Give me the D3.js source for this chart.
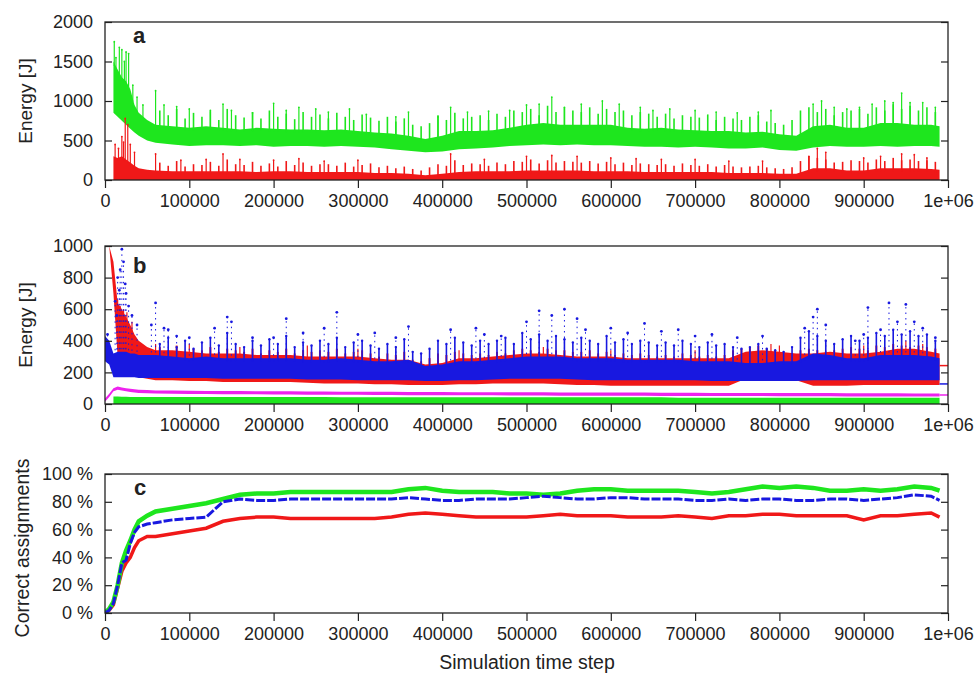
<!DOCTYPE html>
<html><head><meta charset="utf-8">
<script src="https://cdn.jsdelivr.net/npm/d3@7"></script>
<style>
body{margin:0;background:#fff}
text{font-family:"Liberation Sans",Arial,Helvetica,sans-serif;fill:#222}
</style>
</head><body>
<svg id="chart" width="976" height="678"></svg>
<script>
// ---------------- DATA ----------------
const steps = [0,5000,10000,15000,20000,25000,30000,35000,40000,50000,60000,
  80000,100000,120000,140000,160000,180000,200000,220000,240000,260000,
  280000,300000,320000,340000,360000,380000,400000,420000,440000,460000,
  480000,500000,520000,540000,560000,580000,600000,620000,640000,660000,
  680000,700000,720000,740000,760000,780000,800000,820000,840000,860000,
  880000,900000,920000,940000,960000,980000,
  990000];
// regular sampling of local spike maxima (every 10000 steps from 65000)
const spikeSteps = d3.range(65000, 990000, 10000);

const xTicks = [0,100000,200000,300000,400000,500000,600000,700000,800000,900000,1000000];
const xTickLabels = ["0","100000","200000","300000","400000","500000","600000","700000","800000","900000","1e+06"];
const aTicks = [0,500,1000,1500,2000];
const bTicks = [0,200,400,600,800,1000];
const cTicks = [0,20,40,60,80,100];
const cTickLabels = ["0 %","20 %","40 %","60 %","80 %","100 %"];

// panel a
const aGreenLo = [null,null,850,800,750,700,650,600,560,500,470,
  450,430,440,440,430,440,420,430,430,420, 430,420,410,390,370,350,360,390,400,410,
  430,440,450,440,450,440,440,430,420,420, 410,420,410,400,400,410,380,370,410,430,
  420,420,430,420,430,430,
  420];
const aGreenHi = [null,null,1500,1400,1300,1250,1150,950,850,760,700,
  680,660,680,660,640,660,650,640,640,630, 640,620,600,590,560,520,560,620,620,630,
  660,700,720,700,700,700,700,660,650,660, 640,630,620,620,600,610,580,560,680,700,
  660,660,720,720,700,700,
  680];
const aRedHi = [null,null,300,280,300,260,220,180,150,130,120,
  110,110,110,110,110,100,110,110,100,100, 100,100,90,90,80,60,80,100,110,110,
  110,120,120,120,120,110,110,110,100,100, 100,100,100,90,90,90,80,80,150,150,
  120,120,150,150,150,140,
  130];
const aGreenPeaks = [[11000,1750],[13000,1550],[17000,1680],[20000,1650],[23000,1500],[25000,1620],[28000,1600],[33000,1200],[38000,1050],[45000,950],[60000,1130],[70000,950],[85000,930],[100000,900],
  [125000,880],[140000,960],[150000,880],[175000,850],[200000,970],[215000,880],[230000,920],[250000,900],[265000,860],[290000,900],
  [310000,830],[345000,800],[360000,860],[395000,800],[410000,920],[430000,860],[455000,870],[480000,880],[500000,950],[515000,960],
  [530000,1050],[545000,920],[565000,960],[590000,1000],[610000,960],[635000,920],[650000,880],[670000,900],[700000,880],[725000,860],
  [750000,850],[775000,860],[790000,880],[840000,960],[850000,1000],[865000,920],[880000,900],[895000,920],[910000,960],[925000,1000],
  [935000,980],[945000,1100],[955000,980],[970000,980],[985000,920]];
const aGreenSpk = [880,820,900,780,850,800,870,760,900,820,
  790,860,780,880,800,840,770,860,800,830,
  780,850,800,760,830,790,750,800,740,780,
  700,680,720,820,760,850,780,800,820,760,
  840,800,880,860,900,820,940,860,920,880,
  860,920,840,900,860,880,820,860,840,800,
  840,780,820,800,790,830,760,800,780,760,
  800,820,740,720,700,760,880,920,860,900,
  820,860,880,900,840,920,880,960,900,940,
  880,920,860];
const aRedPeaks = [[12000,450],[16000,400],[20000,550],[22000,480],[24000,780],[27000,700],[30000,450],[35000,350],[60000,330],[90000,250],[120000,260],[140000,330],[160000,260],
  [200000,250],[230000,270],[260000,240],[300000,250],[410000,330],[450000,260],[500000,300],[530000,310],[560000,300],[600000,280],
  [630000,270],[660000,260],[700000,260],[740000,240],[780000,240],[835000,300],[845000,400],[855000,350],[900000,280],[920000,300],
  [945000,330],[960000,320],[975000,280]];
const aRedSpk = [220,180,240,170,200,190,230,180,260,200,
  190,230,180,210,170,240,190,220,180,200,
  200,180,220,170,190,210,160,180,150,170,
  140,120,160,200,180,250,190,210,200,180,
  220,200,240,230,260,210,250,220,240,230,
  220,240,210,230,200,220,190,210,200,190,
  200,180,210,190,180,200,170,190,170,160,
  170,180,160,150,140,160,240,300,280,260,
  220,230,250,240,220,260,240,280,250,260,
  240,250,230];

// panel b
const bBlueLo = [270,250,170,170,170,170,170,170,165,165,165,
  165,165,165,160,160,160,160,160,155,155, 155,150,150,150,150,145,145,150,150,155,
  160,160,160,160,155,150,150,150,150,150, 150,150,145,145,145,145,145,145,150,150,
  150,150,150,150,150,150,
  150];
const bBlueHi = [430,400,320,330,330,330,320,320,310,310,310,
  300,290,300,290,290,290,290,290,280,280, 290,280,270,270,280,240,250,270,270,280,
  290,300,300,300,290,290,290,280,280,280, 280,270,270,270,260,260,270,270,320,310,
  290,290,310,310,310,300,
  290];
const bRedLo = [null,1000,700,300,230,200,190,180,170,160,150,
  150,145,145,140,140,140,140,140,135,130, 130,130,125,125,120,120,120,125,125,130,
  130,130,130,125,120,120,115,115,115,115, 115,115,115,115,160,160,150,150,115,115,
  115,120,120,120,120,120,
  120];
const bRedHi = [null,1000,900,640,600,550,500,440,400,360,340,
  340,330,320,320,320,310,310,310,300,300, 300,300,290,280,280,250,260,290,290,300,
  310,320,320,310,300,300,300,290,290,290, 290,290,290,290,330,340,330,320,320,330,
  320,320,330,350,350,330,
  320];
const bMagenta = [25,55,90,100,95,90,86,83,80,78,76,
  75,74,73,72,72,71,70,70,69,69, 68,68,67,67,66,66,66,65,65,65,
  64,64,64,63,63,63,62,62,62,61, 61,61,60,60,60,60,59,59,59,59,
  58,58,58,58,57,57,
  57];
const bGreenHi = [null,null,48,48,46,46,45,45,45,44,44,
  44,44,44,44,44,44,44,44,44,44, 42,42,42,42,42,42,42,42,42,42,
  42,42,42,42,42,42,42,42,42,42, 40,40,40,40,40,40,40,40,40,40,
  40,40,40,40,40,40,
  40];
const bBluePeaks = [[3000,440],[12000,650],[14000,560],[15000,800],[17000,720],[18000,850],[20000,980],[22000,900],[24000,760],[25000,700],[28000,620],[32000,560],[38000,500],[55000,500],[60000,640],
  [70000,480],[75000,470],[85000,430],[100000,420],[130000,480],[145000,550],[150000,520],[175000,420],[200000,420],[215000,540],
  [235000,450],[260000,480],[275000,580],[300000,440],[320000,450],[345000,420],[360000,490],[410000,470],[440000,480],[450000,440],
  [470000,430],[500000,520],[515000,590],[530000,560],[545000,600],[560000,540],[570000,470],[600000,480],[620000,450],[640000,510],
  [660000,460],[680000,470],[700000,430],[720000,440],[750000,420],[780000,430],[830000,480],[840000,550],[845000,600],[855000,500],
  [890000,400],[900000,440],[905000,610],[920000,470],[930000,640],[940000,520],[950000,630],[960000,520],[970000,480],[985000,420]];
const bBlueSpk = [380,420,360,400,350,390,420,370,450,380,
  360,400,370,410,380,430,360,390,370,400,
  380,420,360,390,400,370,350,380,360,410,
  330,320,350,400,380,420,390,370,400,380,
  400,420,380,450,410,440,400,430,410,390,
  420,400,380,430,390,410,380,400,390,370,
  390,370,400,380,360,390,370,380,360,350,
  360,380,350,340,330,360,420,460,430,400,
  380,410,430,400,420,450,430,470,440,460,
  430,440,400];
const bRedPeaks = [[15000,660],[18000,620],[22000,600],[26000,580],[32000,520],[60000,380],[100000,380],[160000,360],[240000,370],[300000,350],
  [420000,340],[520000,360],[600000,340],[700000,340],[790000,380],[800000,370],[900000,370],[950000,400],[970000,380]];
const bRedSpk = [360,340,370,330,350,340,360,330,350,340,
  330,350,320,340,330,350,320,340,330,340,
  330,350,320,330,340,320,300,320,310,330,
  280,270,290,320,310,330,320,310,320,310,
  330,320,340,350,340,330,350,340,340,330,
  330,340,320,330,310,320,310,320,310,300,
  310,300,320,310,300,310,300,310,340,350,
  360,370,350,340,330,320,340,350,340,330,
  340,350,360,350,340,370,360,380,370,360,
  370,360,350];
const bEndValues = [243,127,57]; // red, blue, magenta end levels

// panel c (percent)
const cGreen = [0,3,8,20,36,45,52,60,66,70,73,
  75,77,79,82,85,86,86,87,87,87, 87,87,87,87,89,90,88,87,87,87,
  86,86,85,86,88,89,89,88,88,88, 88,87,86,87,89,91,90,91,90,88,
  88,89,88,89,91,90,
  88];
const cBlue = [0,2,7,20,36,38,50,58,62,64,65,
  67,68,69,80,82,81,81,82,82,82, 82,82,82,82,83,82,81,81,82,82,
  82,83,84,83,82,82,83,83,82,82, 82,81,81,82,81,82,82,81,81,82,
  82,81,82,83,85,84,
  81];
const cRed = [0,2,6,18,30,36,40,47,52,55,55,
  57,59,61,66,68,69,69,68,68,68, 68,68,68,69,71,72,71,70,69,69,
  69,69,70,71,70,70,70,69,69,69, 70,69,68,70,70,71,71,70,70,70,
  70,67,70,70,71,72,
  69];

// ---------------- STYLE / LAYOUT ----------------
const GREEN = "#1ee61e", RED = "#f01818", BLUE = "#1818e0", MAGENTA = "#ee22ee";
const endColors = [RED, BLUE, MAGENTA];
const L = 105, R = 948;
const svg = d3.select("#chart");
const x = d3.scaleLinear([0, 1000000], [L, R]);
const yA = d3.scaleLinear([0, 2000], [180, 22]);
const yB = d3.scaleLinear([0, 1000], [404, 246]);
const yC = d3.scaleLinear([0, 100], [613, 474]);

const defs = svg.append("defs");
function clip(id, y) {
  defs.append("clipPath").attr("id", id).append("rect")
    .attr("x", L).attr("y", y.range()[1]).attr("width", R - L).attr("height", y.range()[0] - y.range()[1]);
}
clip("ca", yA); clip("cb", yB); clip("cc", yC);

function rows(lo, hi) {
  return steps.map((s, i) => ({s, lo: lo ? lo[i] : 0, hi: hi[i]}));
}
function band(g, y, lo, hi, color) {
  const area = d3.area().defined(d => d.hi != null && d.lo != null)
    .x(d => x(d.s)).y0(d => y(d.lo)).y1(d => y(d.hi));
  g.append("path").datum(rows(lo, hi)).attr("d", area).attr("fill", color);
}
function interp(arr, s) {
  let i = d3.bisectRight(steps, s) - 1;
  i = Math.max(0, Math.min(steps.length - 2, i));
  let a = arr[i], b = arr[i + 1];
  if (a == null) a = b; if (b == null) b = a;
  const t = (s - steps[i]) / (steps[i + 1] - steps[i]);
  return a + (b - a) * t;
}
// each spike: a thin vertical line from inside the band up to its peak, with a small point on top
function spikes(g, y, pairs, baseArr, color, opts) {
  opts = opts || {};
  g.append("g").selectAll("line").data(pairs).join("line")
    .attr("x1", d => x(d[0])).attr("x2", d => x(d[0]))
    .attr("y1", d => y(interp(baseArr, d[0])) + 3).attr("y2", d => y(d[1]))
    .attr("stroke", color).attr("stroke-width", opts.w || 1.4)
    .attr("stroke-dasharray", opts.dash || null);
  if (opts.dots) {
    g.append("g").selectAll("circle").data(pairs).join("circle")
      .attr("cx", d => x(d[0])).attr("cy", d => y(d[1])).attr("r", opts.dots).attr("fill", color);
  }
}
const zipSpk = arr => spikeSteps.map((s, i) => [s, arr[i]]);

function frame(y, ticks, labels) {
  const g = svg.append("g");
  const ax = g.append("g").attr("transform", `translate(0,${y.range()[0]})`)
    .call(d3.axisBottom(x).tickValues(xTicks).tickFormat((d, i) => xTickLabels[i]).tickSize(8).tickPadding(6).tickSizeOuter(0));
  ax.select(".domain").remove();
  const ay = g.append("g").attr("transform", `translate(${L},0)`)
    .call(d3.axisLeft(y).tickValues(ticks).tickFormat((d, i) => labels ? labels[i] : d).tickSize(-7).tickPadding(12).tickSizeOuter(0));
  ay.select(".domain").remove();
  const ar = g.append("g").attr("transform", `translate(${R},0)`)
    .call(d3.axisRight(y).tickValues(ticks).tickFormat("").tickSize(-7).tickSizeOuter(0));
  ar.select(".domain").remove();
  g.selectAll(".tick line").attr("stroke", "#222").attr("stroke-width", 1.2);
  g.selectAll(".tick text").attr("font-size", 18).attr("fill", "#222")
    .attr("font-family", '"Liberation Sans",Arial,sans-serif');
  g.append("rect").attr("x", L).attr("y", y.range()[1]).attr("width", R - L)
    .attr("height", y.range()[0] - y.range()[1]).attr("fill", "none").attr("stroke", "#222").attr("stroke-width", 1.3);
}

// ---- Panel a ----
const ga = svg.append("g").attr("clip-path", "url(#ca)");
band(ga, yA, aGreenLo, aGreenHi, GREEN);
spikes(ga, yA, zipSpk(aGreenSpk), aGreenHi, GREEN, {w: 1.6});
spikes(ga, yA, aGreenPeaks, aGreenHi, GREEN, {w: 1.2, dots: 0.9});
band(ga, yA, null, aRedHi, RED);
spikes(ga, yA, zipSpk(aRedSpk), aRedHi, RED, {w: 1.6});
spikes(ga, yA, aRedPeaks, aRedHi, RED, {w: 1.2, dots: 0.9});
frame(yA, aTicks);

// ---- Panel b ----
const gb = svg.append("g").attr("clip-path", "url(#cb)");
band(gb, yB, null, bGreenHi, GREEN);
band(gb, yB, bMagenta.map(v => v - 10), bMagenta.map(v => v + 10), MAGENTA);
band(gb, yB, bRedLo, bRedHi, RED);
spikes(gb, yB, zipSpk(bRedSpk), bRedHi, RED, {w: 2});
spikes(gb, yB, bRedPeaks, bRedHi, RED, {w: 1.2});
band(gb, yB, bBlueLo, bBlueHi, BLUE);
spikes(gb, yB, zipSpk(bBlueSpk), bBlueHi, BLUE, {w: 1.6, dots: 1.2});
spikes(gb, yB, bBluePeaks, bBlueHi, BLUE, {w: 1, dash: "1.5,4", dots: 1.4});
gb.append("g").selectAll("line").data(bEndValues).join("line")
  .attr("x1", x(990000)).attr("x2", R).attr("y1", d => yB(d)).attr("y2", d => yB(d))
  .attr("stroke", (d, i) => endColors[i]).attr("stroke-width", 1.5);
frame(yB, bTicks);

// ---- Panel c ----
const gc = svg.append("g").attr("clip-path", "url(#cc)");
const lineC = d3.line().x((d, i) => x(steps[i])).y(d => yC(d));
gc.append("path").datum(cRed).attr("d", lineC).attr("fill", "none").attr("stroke", RED).attr("stroke-width", 3.5);
gc.append("path").datum(cGreen).attr("d", lineC).attr("fill", "none").attr("stroke", GREEN).attr("stroke-width", 4.5);
gc.append("path").datum(cBlue).attr("d", lineC).attr("fill", "none").attr("stroke", BLUE).attr("stroke-width", 3).attr("stroke-dasharray", "9,2");
frame(yC, cTicks, cTickLabels);

// ---- Labels ----
svg.append("text").attr("x", 133).attr("y", 43).attr("font-size", 22).attr("font-weight", "bold").text("a");
svg.append("text").attr("x", 133).attr("y", 273).attr("font-size", 22).attr("font-weight", "bold").text("b");
svg.append("text").attr("x", 134).attr("y", 495).attr("font-size", 22).attr("font-weight", "bold").text("c");
svg.append("text").attr("transform", "translate(32,101) rotate(-90)").attr("text-anchor", "middle").attr("font-size", 19).text("Energy [J]");
svg.append("text").attr("transform", "translate(32,325) rotate(-90)").attr("text-anchor", "middle").attr("font-size", 19).text("Energy [J]");
svg.append("text").attr("transform", "translate(29,548) rotate(-90)").attr("text-anchor", "middle").attr("font-size", 19.5).text("Correct assignments");
svg.append("text").attr("x", 527).attr("y", 669).attr("text-anchor", "middle").attr("font-size", 19.5).text("Simulation time step");
</script>
</body></html>
